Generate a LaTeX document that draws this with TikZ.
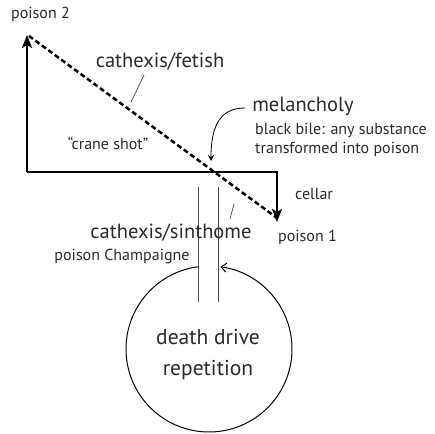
\documentclass[tikz,border=0pt]{standalone}
\usepackage{fontspec}
\setmainfont{PT Sans}
\usetikzlibrary{arrows.meta}
\definecolor{txt}{HTML}{2A2A2A}
\tikzset{
  big/.style={font=\fontsize{20.5}{22}\selectfont, text=txt, inner sep=0pt},
  small/.style={font=\fontsize{16}{19}\selectfont, text=txt, inner sep=0pt},
  thick axis/.style={line width=2.4pt, line join=miter},
  bigtip/.style={-{Stealth[length=13pt,width=10pt,inset=3pt]}},
  thinline/.style={line width=0.5pt, draw=black!70},
}
\begin{document}
\begin{tikzpicture}[x=1pt,y=1pt]
\useasboundingbox (0,0) rectangle (435,433);
% coordinates
\coordinate (top) at (27,398);
\coordinate (corner) at (27,261);
\coordinate (rcorner) at (277,261);
\coordinate (bot) at (277,211);
\coordinate (dA) at (29,397);
\coordinate (dB) at (277,215);
% main axes
\draw[thick axis, bigtip] (corner) -- (top);
\draw[thick axis, bigtip] (corner) -- (rcorner) -- (bot);
% dashed diagonal
\draw[line width=2.5pt, dash pattern=on 5pt off 3pt] (dA) -- (dB);
% thin vertical lines
\coordinate (l1a) at (198,246); \coordinate (l1b) at (198,131);
\coordinate (l2a) at (218,246); \coordinate (l2b) at (218,131);
\draw[thinline] (l1a) -- (l1b);
\draw[thinline] (l2a) -- (l2b);
% circle
\coordinate (cc) at (209,84);
\draw[line width=1pt, -{Straight Barb[length=5pt,width=9pt]}] ([shift={(97.6:83)}]cc) arc[start angle=97.6, end angle=442, radius=83];
% texts
\node[small, anchor=west] (p2) at (11,419) {poison 2};
\node[big] (fetish) at (160,371) {cathexis/fetish};
\coordinate (t1a) at (144,358); \coordinate (t1b) at (131,331);
\draw[thinline, line width=0.7pt] (t1a) -- (t1b);
\node[small] (crane) at (108,290) {``crane shot''};
\node[big] (mel) at (303,327) {melancholy};
\coordinate (ma) at (245,325); \coordinate (mb) at (211,272);
\draw[line width=0.8pt, -{Stealth[length=6pt,width=6pt]}] (ma) .. controls (222,325) and (211,310) .. (mb);
\node[small, anchor=west, align=left] (bile) at (255,293) {black bile: any substance\\transformed into poison};
\node[small, anchor=west] (cellar) at (295,239) {cellar};
\node[small, anchor=west] (p1) at (278,196) {poison 1};
\node[big] (sinth) at (171,200) {cathexis/sinthome};
\node[small] (champ) at (122,176) {poison Champaigne};
\coordinate (t2a) at (234,229); \coordinate (t2b) at (230,214);
\draw[thinline, line width=0.7pt] (t2a) -- (t2b);
\node[big, font=\fontsize{21.5}{31}\selectfont, align=center] (dd) at (208,78) {death drive\\repetition};
\end{tikzpicture}
\end{document}
